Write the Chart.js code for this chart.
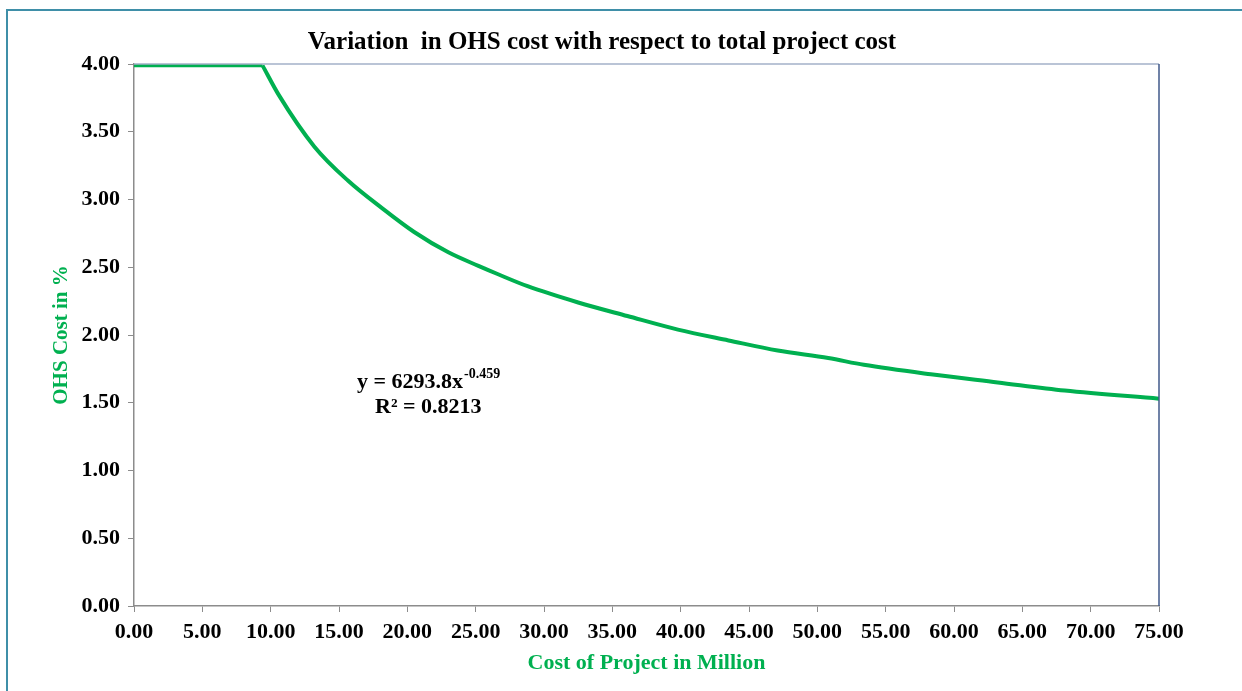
<!DOCTYPE html>
<html>
<head>
<meta charset="utf-8">
<script src="https://cdn.jsdelivr.net/npm/chart.js@4.4.1/dist/chart.umd.min.js"></script>
<style>
  html, body { margin: 0; padding: 0; background: #fff; }
  #wrap { position: relative; width: 1242px; height: 691px; }
  #frame { position: absolute; left: 6px; top: 9px; right: -10px; bottom: -10px;
           border-left: 2px solid #3f8fa8; border-top: 2px solid #3f8fa8; pointer-events: none; }
</style>
</head>
<body>
<div id="wrap">
  <canvas id="ohsChart" width="1242" height="691"></canvas>
  <div id="frame"></div>
</div>
<script>
// values
// flat cap part
const capCost    = [0, 9.4];
const capPercent = [3.99, 3.99];
// falling part
const costMillion = [9.4, 10.6, 13.2, 15.65, 18.1, 20.5, 23.0, 25.2, 26.6, 28.8, 32.5, 36.1, 39.8, 43.5, 47.1, 50.8, 53.4, 58.3, 63.2, 68.1, 75];
const ohsPercent  = [3.99, 3.77, 3.39, 3.14, 2.94, 2.76, 2.61, 2.51, 2.45, 2.36, 2.24, 2.14, 2.04, 1.96, 1.885, 1.83, 1.78, 1.71, 1.65, 1.59, 1.53];
const xTicks = [0, 5, 10, 15, 20, 25, 30, 35, 40, 45, 50, 55, 60, 65, 70, 75];
const yTicks = [0, 0.5, 1, 1.5, 2, 2.5, 3, 3.5, 4];

const green = '#00b050';
const serif = "'Liberation Serif', 'DejaVu Serif', serif";

// top/right border of plot area + equation text
const extras = {
    id: 'extras',
    afterDraw(chart) {
        const { ctx, chartArea: a } = chart;
        ctx.save();
        ctx.lineWidth = 1.5;
        ctx.strokeStyle = '#a3b1c8';
        ctx.beginPath();
        ctx.moveTo(a.left, a.top); ctx.lineTo(a.right, a.top);
        ctx.stroke();
        ctx.strokeStyle = '#40588a';
        ctx.beginPath();
        ctx.moveTo(a.right, a.top); ctx.lineTo(a.right, a.bottom);
        ctx.stroke();

        // trendline equation
        ctx.fillStyle = '#000';
        ctx.font = 'bold 22px ' + serif;
        ctx.textBaseline = 'alphabetic';
        ctx.textAlign = 'left';
        const ex = 357, ey = 388;
        ctx.fillText('y = 6293.8x', ex, ey);
        const w = ctx.measureText('y = 6293.8x').width;
        ctx.font = 'bold 14px ' + serif;
        ctx.fillText('-0.459', ex + w + 1, ey - 10);
        ctx.font = 'bold 22px ' + serif;
        ctx.fillText('R\u00b2 = 0.8213', 375, 413);
        ctx.restore();
    }
};

function lineSet(xs, ys) {
    return {
        data: xs.map((x, i) => ({ x: x, y: ys[i] })),
        showLine: true,
        borderColor: green,
        borderWidth: 4,
        pointRadius: 0,
        cubicInterpolationMode: 'monotone'
    };
}

document.addEventListener('DOMContentLoaded', function() {
    const ctx = document.getElementById('ohsChart').getContext('2d');
    new Chart(ctx, {
        type: 'scatter',
        data: {
            datasets: [lineSet(capCost, capPercent), lineSet(costMillion, ohsPercent)]
        },
        options: {
            responsive: false,
            animation: false,
            layout: { padding: { left: 45, right: 83, top: 12, bottom: 17 } },
            plugins: {
                legend: { display: false },
                tooltip: { enabled: false },
                title: {
                    display: true,
                    text: 'Variation  in OHS cost with respect to total project cost',
                    color: '#000',
                    font: { family: serif, size: 25, weight: 'bold' },
                    padding: { top: 16, bottom: 6 }
                }
            },
            scales: {
                x: {
                    type: 'linear',
                    min: 0, max: 75,
                    afterBuildTicks: s => { s.ticks = xTicks.map(v => ({ value: v })); },
                    ticks: {
                        color: '#000',
                        font: { family: serif, size: 22, weight: 'bold', lineHeight: 1 },
                        padding: 9,
                        maxRotation: 0,
                        callback: v => v.toFixed(2)
                    },
                    grid: { drawOnChartArea: false, color: '#8c8c8c', tickLength: 6 },
                    border: { color: '#8c8c8c', width: 1.5 },
                    title: {
                        display: true,
                        text: 'Cost of Project in Million',
                        color: green,
                        font: { family: serif, size: 22, weight: 'bold', lineHeight: 1 },
                        padding: { top: 0, bottom: 0 }
                    }
                },
                y: {
                    min: 0, max: 4,
                    afterBuildTicks: s => { s.ticks = yTicks.map(v => ({ value: v })); },
                    afterFit: s => { s.width = 89; },
                    ticks: {
                        color: '#000',
                        font: { family: serif, size: 22, weight: 'bold' },
                        padding: 8,
                        callback: v => v.toFixed(2)
                    },
                    grid: { drawOnChartArea: false, color: '#8c8c8c', tickLength: 6 },
                    border: { color: '#8c8c8c', width: 1.5 },
                    title: {
                        display: true,
                        text: 'OHS Cost in %',
                        color: green,
                        font: { family: serif, size: 21, weight: 'bold' },
                        padding: { top: 4, bottom: 0 }
                    }
                }
            }
        },
        plugins: [extras]
    });
});
</script>
</body>
</html>
